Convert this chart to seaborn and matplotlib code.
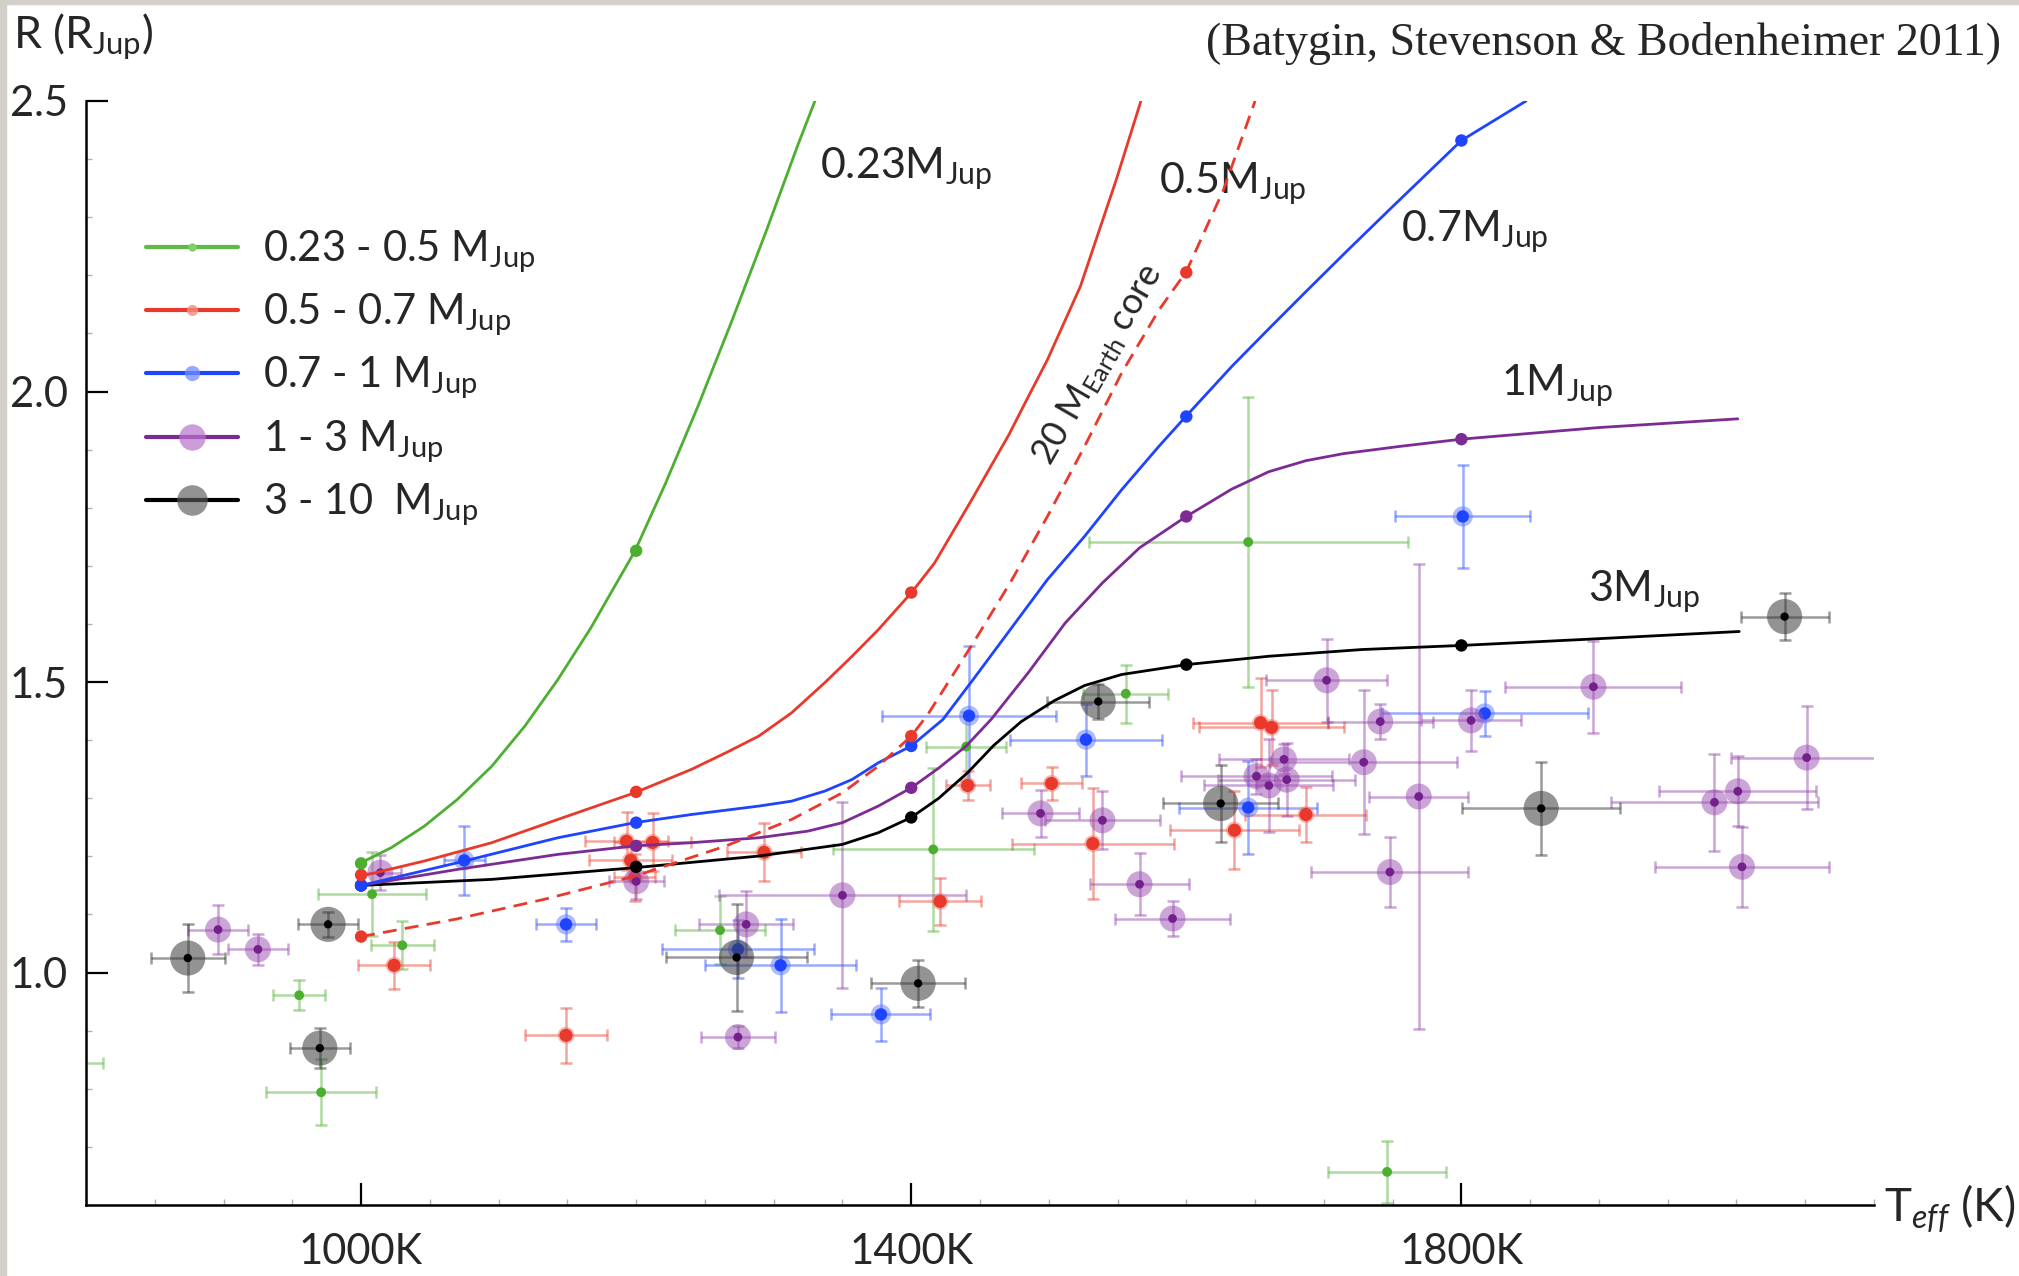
import numpy as np
import pandas as pd
import seaborn as sns
import matplotlib.pyplot as plt
from matplotlib.lines import Line2D
from matplotlib.patches import Rectangle
from matplotlib.ticker import MultipleLocator, FixedLocator

sns.set_theme(style="ticks")
plt.rcParams['font.family'] = ['Lato', 'DejaVu Sans']
plt.rcParams['mathtext.fontset'] = 'custom'
plt.rcParams['mathtext.rm'] = 'Lato'
plt.rcParams['mathtext.it'] = 'Lato:italic'

# ---- model tracks: Teff (K) vs radius (R_Jup) ----
green_T = [1000, 1022, 1046, 1070, 1095, 1119, 1143, 1167, 1199, 1221, 1245, 1269, 1294, 1318, 1330]
green_R = [1.189, 1.215, 1.252, 1.298, 1.355, 1.424, 1.504, 1.593, 1.725, 1.84, 1.975, 2.118, 2.2725, 2.427, 2.5]

red_T = [1000, 1046, 1095, 1143, 1199, 1240, 1265, 1289, 1313, 1337, 1357, 1376, 1400, 1417, 1444, 1471,
         1484, 1499, 1523, 1549, 1567]
red_R = [1.166, 1.192, 1.2235, 1.2635, 1.3095, 1.3495, 1.378, 1.4068, 1.447, 1.4986, 1.5444, 1.59, 1.6534,
         1.705, 1.8138, 1.9256, 1.986, 2.0546, 2.181, 2.364, 2.5]

core_T = [1000, 1069, 1133, 1199, 1265, 1313, 1350, 1376, 1400, 1412, 1445, 1472, 1499, 1526, 1553, 1580,
          1600, 1627, 1650]
core_R = [1.062, 1.092, 1.126, 1.166, 1.2177, 1.2635, 1.3095, 1.3552, 1.407, 1.444, 1.567, 1.671, 1.785,
          1.9055, 2.032, 2.14, 2.2065, 2.347, 2.5]

blue_T = [1000, 1070, 1143, 1199, 1240, 1289, 1313, 1337, 1357, 1376, 1400, 1423, 1445, 1472, 1499, 1526,
          1553, 1580, 1600, 1633, 1660, 1687, 1716, 1749, 1800, 1847]
blue_R = [1.150, 1.189, 1.232, 1.258, 1.272, 1.2865, 1.295, 1.3122, 1.3323, 1.361, 1.390, 1.4355, 1.5043,
          1.5903, 1.6763, 1.7507, 1.831, 1.9055, 1.958, 2.043, 2.108, 2.172, 2.24, 2.316, 2.432, 2.5]

purple_T = [1000, 1070, 1143, 1199, 1240, 1289, 1325, 1350, 1376, 1400, 1420, 1440, 1458, 1485, 1512, 1539,
            1566, 1600, 1633, 1660, 1687, 1714, 1755, 1800, 1900, 2001]
purple_R = [1.150, 1.1775, 1.2034, 1.218, 1.2235, 1.232, 1.2435, 1.258, 1.2865, 1.318, 1.352, 1.39, 1.4355,
            1.5158, 1.6018, 1.6706, 1.731, 1.785, 1.832, 1.862, 1.881, 1.893, 1.9055, 1.918, 1.938, 1.953]

black_T = [1000, 1095, 1199, 1289, 1350, 1376, 1400, 1420, 1441, 1460, 1480, 1504, 1526, 1553, 1600, 1660,
           1728, 1800, 1886, 2002]
black_R = [1.150, 1.1604, 1.1805, 1.2005, 1.2206, 1.2407, 1.267, 1.300, 1.344, 1.391, 1.432, 1.468, 1.494,
           1.513, 1.530, 1.5444, 1.556, 1.563, 1.573, 1.587]

# dots on the tracks
dot_T = [1000, 1200, 1400, 1600, 1800]
green_dot_R = [1.188, 1.726]
red_dot_R = [1.168, 1.311, 1.654]
core_dot_T = [1000, 1400, 1600]
core_dot_R = [1.062, 1.407, 2.205]
blue_dot_R = [1.150, 1.258, 1.390, 1.957, 2.432]
purple_dot_R = [1.150, 1.218, 1.318, 1.785, 1.918]
black_dot_R = [1.150, 1.182, 1.267, 1.530, 1.563]

# ---- observed planets: T, R, dT, dR ----
obs_green_T = [775, 955, 971, 1008, 1030, 1261, 1416, 1440, 1556, 1645, 1746]
obs_green_R = [0.844, 0.961, 0.794, 1.135, 1.047, 1.073, 1.212, 1.389, 1.480, 1.741, 0.657]
obs_green_dT = [37, 19, 40, 39, 23, 33, 73, 29, 31, 116, 43]
obs_green_dR = [0.03, 0.026, 0.057, 0.072, 0.041, 0.058, 0.14, 0.06, 0.05, 0.25, 0.053]

obs_red_T = [1024, 1149, 1193, 1212, 1196, 1199, 1293, 1421, 1441, 1502, 1532, 1635, 1654, 1662, 1687]
obs_red_R = [1.0125, 0.892, 1.226, 1.224, 1.193, 1.164, 1.207, 1.1225, 1.322, 1.3255, 1.222, 1.245, 1.430, 1.422, 1.272]
obs_red_dT = [26, 29.5, 30, 28, 30, 15, 27, 30, 16, 22, 59, 47, 49, 53, 44]
obs_red_dR = [0.040, 0.047, 0.05, 0.05, 0.03, 0.04, 0.05, 0.041, 0.025, 0.028, 0.095, 0.067, 0.077, 0.064, 0.048]

obs_blue_T = [1075, 1149, 1274, 1305, 1378, 1442, 1527, 1645, 1801, 1817]
obs_blue_R = [1.193, 1.083, 1.040, 1.0125, 0.928, 1.442, 1.401, 1.284, 1.785, 1.446]
obs_blue_dT = [15, 22, 55, 55, 36, 63, 55, 50, 49, 75]
obs_blue_dR = [0.060, 0.029, 0.05, 0.08, 0.045, 0.12, 0.062, 0.08, 0.089, 0.038]

obs_purple_T = [896, 925, 1014, 1200, 1274, 1280, 1350, 1494, 1539, 1566, 1590, 1651, 1660, 1671, 1673,
                1702, 1729, 1741, 1748, 1769, 1807, 1896, 1984, 2001, 2051, 2004]
obs_purple_R = [1.074, 1.040, 1.172, 1.157, 0.889, 1.083, 1.133, 1.274, 1.262, 1.152, 1.093, 1.338, 1.322, 1.367, 1.332,
                1.503, 1.362, 1.432, 1.173, 1.303, 1.434, 1.492, 1.293, 1.312, 1.370, 1.182]
obs_purple_dT = [22, 22, 15, 20, 27, 34, 90, 28, 42, 36, 42, 55, 47, 47, 50,
                 44, 68, 38, 57, 36, 36, 64, 75, 57, 55, 63]
obs_purple_dR = [0.042, 0.027, 0.03, 0.03, 0.019, 0.057, 0.16, 0.04, 0.05, 0.053, 0.03, 0.03, 0.08, 0.026, 0.063,
                 0.071, 0.124, 0.03, 0.06, 0.40, 0.052, 0.079, 0.084, 0.06, 0.089, 0.069]

obs_black_T = [874, 976, 970, 1273, 1405, 1536, 1625, 1858, 2035]
obs_black_R = [1.025, 1.083, 0.870, 1.026, 0.9815, 1.4665, 1.291, 1.2825, 1.6126]
obs_black_dT = [27, 22, 22, 51, 34, 37, 42, 57.5, 32]
obs_black_dR = [0.058, 0.022, 0.034, 0.092, 0.041, 0.03, 0.066, 0.08, 0.04]

GREEN = '#4caf2f'
RED = '#e8392b'
BLUE = '#1f44ff'
PURPLE = '#7d2b94'
BLACK = '#000000'

fig = plt.figure(figsize=(20.19, 12.76), dpi=100, facecolor='white')
ax = fig.add_axes([86 / 2019, 71 / 1276, (1874 - 86) / 2019, (1205 - 101) / 1276])
ax.set_facecolor('white')


def draw_obs(T, R, dT, dR, col, halo=None, halo_s=0, halo_a=0.55, core=None, core_s=60):
    ax.errorbar(T, R, xerr=dT, yerr=dR, fmt='none', ecolor=col, alpha=0.45,
                elinewidth=1.8, capsize=4, capthick=1.8, zorder=2)
    if halo is not None:
        sns.scatterplot(x=T, y=R, s=halo_s, color=halo, alpha=halo_a, edgecolor='none', ax=ax, zorder=3)
    sns.scatterplot(x=T, y=R, s=core_s, color=core or col, edgecolor='none', ax=ax, zorder=3)


draw_obs(obs_green_T, obs_green_R, obs_green_dT, obs_green_dR, GREEN, core_s=50)
draw_obs(obs_red_T, obs_red_R, obs_red_dT, obs_red_dR, RED, halo='#f07a70', halo_s=150, halo_a=0.5, core_s=90)
draw_obs(obs_blue_T, obs_blue_R, obs_blue_dT, obs_blue_dR, BLUE, halo='#5f78ff', halo_s=210, halo_a=0.5, core_s=80)
draw_obs(obs_purple_T, obs_purple_R, obs_purple_dT, obs_purple_dR, '#8e3aa6', halo='#9b4db3', halo_s=350,
         halo_a=0.5, core='#74208c', core_s=40)
draw_obs(obs_black_T, obs_black_R, obs_black_dT, obs_black_dR, '#222222', halo='#3a3a3a', halo_s=640,
         halo_a=0.55, core='black', core_s=36)

# ---- model tracks ----
tracks = [
    (black_T, black_R, dot_T, black_dot_R, BLACK, '-'),
    (purple_T, purple_R, dot_T, purple_dot_R, PURPLE, '-'),
    (blue_T, blue_R, dot_T, blue_dot_R, BLUE, '-'),
    (core_T, core_R, core_dot_T, core_dot_R, RED, (0, (5, 3))),
    (red_T, red_R, dot_T[:3], red_dot_R, RED, '-'),
    (green_T, green_R, dot_T[:2], green_dot_R, GREEN, '-'),
]
for tT, tR, dT_, dR_, col, ls in tracks:
    sns.lineplot(x=tT, y=tR, color=col, linewidth=2.0, linestyle=ls, sort=False, estimator=None,
                 ax=ax, zorder=4, solid_joinstyle='round')
    sns.scatterplot(x=dT_, y=dR_, s=80, color=col, edgecolor='none', ax=ax, zorder=5)

# track labels
lab_fs = 31
ax.text(1334, 2.367, r'0.23M$_{\mathregular{Jup}}$', fontsize=lab_fs, va='baseline', ha='left')
ax.text(1580, 2.341, r'0.5M$_{\mathregular{Jup}}$', fontsize=lab_fs, va='baseline', ha='left')
ax.text(1756, 2.258, r'0.7M$_{\mathregular{Jup}}$', fontsize=lab_fs, va='baseline', ha='left')
ax.text(1829, 1.994, r'1M$_{\mathregular{Jup}}$', fontsize=lab_fs, va='baseline', ha='left')
ax.text(1892, 1.639, r'3M$_{\mathregular{Jup}}$', fontsize=lab_fs, va='baseline', ha='left')
ax.text(1536, 2.046, r'20 M$_{\mathregular{Earth}}$ core', fontsize=26, rotation=60,
        rotation_mode='anchor', ha='center', va='center')

# ---- axes styling ----
ax.set_xlim(800, 2100)
ax.set_ylim(0.6, 2.5)
ax.xaxis.set_major_locator(FixedLocator([1000, 1400, 1800]))
ax.xaxis.set_minor_locator(MultipleLocator(50))
ax.yaxis.set_major_locator(MultipleLocator(0.5))
ax.yaxis.set_minor_locator(MultipleLocator(0.1))
ax.set_xticklabels(['1000K', '1400K', '1800K'])
ax.set_yticklabels(['%.1f' % v for v in ax.get_yticks()])
ax.tick_params(which='major', direction='in', length=16, width=1.6, color='black')
ax.tick_params(axis='x', which='major', labelsize=30, pad=20)
ax.tick_params(axis='y', which='major', labelsize=30, pad=13)
ax.tick_params(which='minor', direction='in', length=4, width=1, color='#b0b0b0')
for s in ['top', 'right']:
    ax.spines[s].set_visible(False)
for s in ['left', 'bottom']:
    ax.spines[s].set_linewidth(1.8)
    ax.spines[s].set_color('black')
ax.set_xlabel('')
ax.set_ylabel('')

fig.text(13 / 2019, 1 - 48 / 1276, r'R (R$_{\mathregular{Jup}}$)', fontsize=32, ha='left', va='baseline')
fig.text(1884 / 2019, 1 - 1222 / 1276, r'T$_{\mathit{eff}}$ (K)', fontsize=33, ha='left', va='baseline')
fig.text(2001 / 2019, 1 - 55 / 1276, '(Batygin, Stevenson & Bodenheimer 2011)', fontsize=33,
         family=['Liberation Serif', 'DejaVu Serif'], ha='right', va='baseline')

# ---- legend ----
handles = [
    Line2D([], [], color='#5dbb45', lw=3, marker='o', ms=6, mfc='#7fd06a', mec='none'),
    Line2D([], [], color=RED, lw=3, marker='o', ms=8, mfc=(0.95, 0.55, 0.5, 0.8), mec='none'),
    Line2D([], [], color=BLUE, lw=3, marker='o', ms=11, mfc=(0.45, 0.55, 1.0, 0.75), mec='none'),
    Line2D([], [], color=PURPLE, lw=3, marker='o', ms=19, mfc=(0.72, 0.45, 0.8, 0.7), mec='none'),
    Line2D([], [], color=BLACK, lw=3, marker='o', ms=22, mfc=(0.35, 0.35, 0.35, 0.65), mec='none'),
]
labels = [r'0.23 - 0.5 M$_{\mathregular{Jup}}$', r'0.5 - 0.7 M$_{\mathregular{Jup}}$',
          r'0.7 - 1 M$_{\mathregular{Jup}}$', r'1 - 3 M$_{\mathregular{Jup}}$',
          r'3 - 10  M$_{\mathregular{Jup}}$']
ax.legend(handles, labels, loc='upper left', bbox_to_anchor=(146 / 2019, 1 - 228 / 1276),
          bbox_transform=fig.transFigure, frameon=False, fontsize=30, handlelength=2.2,
          handletextpad=0.6, labelspacing=0.40, borderaxespad=0, borderpad=0)

# screenshot frame
fig.add_artist(Rectangle((0, 0), 6 / 2019, 1, transform=fig.transFigure, color='#d3d0c9', zorder=0))
fig.add_artist(Rectangle((0, 1 - 4 / 1276), 1, 4 / 1276, transform=fig.transFigure, color='#d3d0c9', zorder=0))

fig.savefig('out.png', dpi=100)
